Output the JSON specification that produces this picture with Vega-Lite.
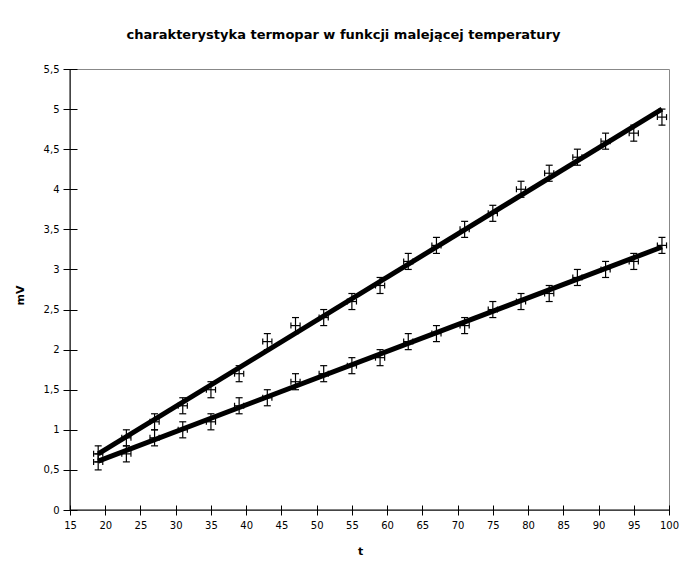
{
  "$schema": "https://vega.github.io/schema/vega-lite/v6.json",
  "autosize": {"type": "none"},
  "padding": {"left": 70, "top": 69, "right": 21, "bottom": 55},
  "width": 599,
  "height": 441,
  "background": "white",
  "config": {
    "font": "DejaVu Sans",
    "view": {"stroke": "#888888", "strokeWidth": 1},
    "axis": {"grid": false, "labelFont": "DejaVu Sans", "labelFontSize": 10, "labelColor": "#000000", "tickColor": "#000000", "titleFont": "DejaVu Sans", "titleFontSize": 11, "titleFontWeight": "bold", "titleColor": "#000000", "labelOverlap": false, "labelFlush": false, "labelSeparation": 0},
    "axisX": {"labelOverlap": false, "labelSeparation": 0, "values": [15,20,25,30,35,40,45,50,55,60,65,70,75,80,85,90,95,100], "offset": -5, "tickSize": 10, "labelPadding": 5, "domain": false, "titleX": 290, "titleY": 40, "titleBaseline": "top", "titleAlign": "center"},
    "axisY": {"labelOverlap": false, "values": [0,0.5,1,1.5,2,2.5,3,3.5,4,4.5,5,5.5], "offset": -7, "tickSize": 14, "labelPadding": 4, "domain": false, "titleX": -57, "titleY": 226, "titleBaseline": "middle", "titleAlign": "center", "titleAngle": -90}
  },
  "title": {"text": "charakterystyka termopar w funkcji malejącej temperatury", "fontSize": 13, "fontWeight": "bold", "font": "DejaVu Sans", "color": "#000000", "anchor": "middle", "dx": -26, "offset": 22},
  "datasets": {
    "pts": [
      {"t": 19, "mV": 0.7, "s": "a", "de": 0.1, "te": 0.65},
      {"t": 23, "mV": 0.9, "s": "a", "de": 0.1, "te": 0.65},
      {"t": 27, "mV": 1.1, "s": "a", "de": 0.1, "te": 0.65},
      {"t": 31, "mV": 1.3, "s": "a", "de": 0.1, "te": 0.65},
      {"t": 35, "mV": 1.5, "s": "a", "de": 0.1, "te": 0.65},
      {"t": 39, "mV": 1.7, "s": "a", "de": 0.1, "te": 0.65},
      {"t": 43, "mV": 2.1, "s": "a", "de": 0.1, "te": 0.65},
      {"t": 47, "mV": 2.3, "s": "a", "de": 0.1, "te": 0.65},
      {"t": 51, "mV": 2.4, "s": "a", "de": 0.1, "te": 0.65},
      {"t": 55, "mV": 2.6, "s": "a", "de": 0.1, "te": 0.65},
      {"t": 59, "mV": 2.8, "s": "a", "de": 0.1, "te": 0.65},
      {"t": 63, "mV": 3.1, "s": "a", "de": 0.1, "te": 0.65},
      {"t": 67, "mV": 3.3, "s": "a", "de": 0.1, "te": 0.65},
      {"t": 71, "mV": 3.5, "s": "a", "de": 0.1, "te": 0.65},
      {"t": 75, "mV": 3.7, "s": "a", "de": 0.1, "te": 0.65},
      {"t": 79, "mV": 4.0, "s": "a", "de": 0.1, "te": 0.65},
      {"t": 83, "mV": 4.2, "s": "a", "de": 0.1, "te": 0.65},
      {"t": 87, "mV": 4.4, "s": "a", "de": 0.1, "te": 0.65},
      {"t": 91, "mV": 4.6, "s": "a", "de": 0.1, "te": 0.65},
      {"t": 95, "mV": 4.7, "s": "a", "de": 0.1, "te": 0.65},
      {"t": 99, "mV": 4.9, "s": "a", "de": 0.1, "te": 0.65},
      {"t": 19, "mV": 0.6, "s": "b", "de": 0.1, "te": 0.65},
      {"t": 23, "mV": 0.7, "s": "b", "de": 0.1, "te": 0.65},
      {"t": 27, "mV": 0.9, "s": "b", "de": 0.1, "te": 0.65},
      {"t": 31, "mV": 1.0, "s": "b", "de": 0.1, "te": 0.65},
      {"t": 35, "mV": 1.1, "s": "b", "de": 0.1, "te": 0.65},
      {"t": 39, "mV": 1.3, "s": "b", "de": 0.1, "te": 0.65},
      {"t": 43, "mV": 1.4, "s": "b", "de": 0.1, "te": 0.65},
      {"t": 47, "mV": 1.6, "s": "b", "de": 0.1, "te": 0.65},
      {"t": 51, "mV": 1.7, "s": "b", "de": 0.1, "te": 0.65},
      {"t": 55, "mV": 1.8, "s": "b", "de": 0.1, "te": 0.65},
      {"t": 59, "mV": 1.9, "s": "b", "de": 0.1, "te": 0.65},
      {"t": 63, "mV": 2.1, "s": "b", "de": 0.1, "te": 0.65},
      {"t": 67, "mV": 2.2, "s": "b", "de": 0.1, "te": 0.65},
      {"t": 71, "mV": 2.3, "s": "b", "de": 0.1, "te": 0.65},
      {"t": 75, "mV": 2.5, "s": "b", "de": 0.1, "te": 0.65},
      {"t": 79, "mV": 2.6, "s": "b", "de": 0.1, "te": 0.65},
      {"t": 83, "mV": 2.7, "s": "b", "de": 0.1, "te": 0.65},
      {"t": 87, "mV": 2.9, "s": "b", "de": 0.1, "te": 0.65},
      {"t": 91, "mV": 3.0, "s": "b", "de": 0.1, "te": 0.65},
      {"t": 95, "mV": 3.1, "s": "b", "de": 0.1, "te": 0.65},
      {"t": 99, "mV": 3.3, "s": "b", "de": 0.1, "te": 0.65}
    ],
    "fits": [
      {"t": 19, "fit": 0.7, "s": "a"},
      {"t": 99, "fit": 5.0, "s": "a"},
      {"t": 19, "fit": 0.61, "s": "b"},
      {"t": 99, "fit": 3.28, "s": "b"}
    ]
  },
  "layer": [
    {
      "data": {"name": "fits"},
      "mark": {"type": "line", "color": "#000000", "strokeWidth": 5, "strokeCap": "butt"},
      "encoding": {
        "x": {"field": "t", "type": "quantitative", "title": "t", "scale": {"domain": [15, 100], "nice": false, "zero": false}},
        "y": {"field": "fit", "type": "quantitative", "title": "mV", "scale": {"domain": [0, 5.5], "nice": false, "zero": true},
          "axis": {"labelExpr": "replace(format(datum.value, '.1~f'), '.', ',')"}},
        "detail": {"field": "s"}
      }
    },
    {
      "data": {"name": "pts"},
      "mark": {"type": "errorbar", "color": "#000000", "opacity": 1, "thickness": 1.2, "ticks": {"size": 7, "color": "#000000", "thickness": 1.2, "opacity": 1}, "rule": {"opacity": 1, "strokeWidth": 1.2}},
      "encoding": {
        "x": {"field": "t", "type": "quantitative", "title": "t"},
        "y": {"field": "mV", "type": "quantitative", "title": "mV"},
        "yError": {"field": "de"},
        "detail": {"field": "s"}
      }
    },
    {
      "data": {"name": "pts"},
      "mark": {"type": "errorbar", "color": "#000000", "opacity": 1, "thickness": 1.2, "ticks": {"size": 6, "color": "#000000", "thickness": 1.2, "opacity": 1}, "rule": {"opacity": 1, "strokeWidth": 1.2}},
      "encoding": {
        "x": {"field": "t", "type": "quantitative", "title": "t"},
        "xError": {"field": "te"},
        "y": {"field": "mV", "type": "quantitative", "title": "mV"},
        "detail": {"field": "s"}
      }
    },
    {
      "data": {"values": [{}]},
      "mark": {"type": "rule", "color": "#000000", "strokeWidth": 1},
      "encoding": {"x": {"datum": 15, "type": "quantitative", "title": "t"}}
    },
    {
      "data": {"values": [{}]},
      "mark": {"type": "rule", "color": "#000000", "strokeWidth": 1},
      "encoding": {"y": {"datum": 0, "type": "quantitative", "title": "mV"}}
    }
  ]
}
